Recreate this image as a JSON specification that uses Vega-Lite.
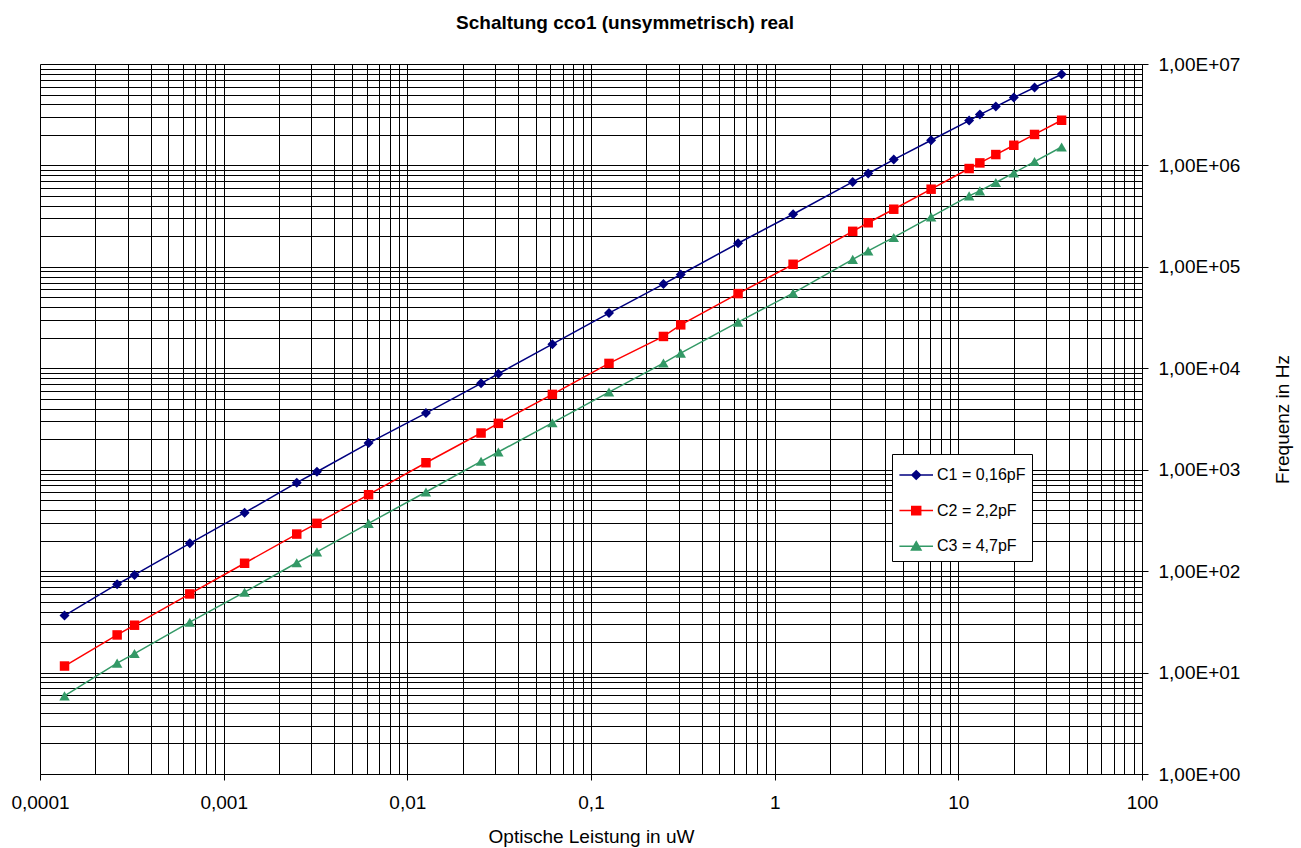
{
  "$schema": "https://vega.github.io/schema/vega-lite/v6.json",
  "autosize": {"type": "none"},
  "padding": {"left": 40, "top": 64, "right": 159, "bottom": 74},
  "width": 1102,
  "height": 710,
  "background": "white",
  "title": {
    "text": "Schaltung cco1 (unsymmetrisch) real",
    "font": "Liberation Sans",
    "fontSize": 19,
    "fontWeight": "bold",
    "color": "black",
    "anchor": "middle",
    "frame": "group",
    "dx": 34,
    "offset": 22
  },
  "data": {
    "values": [
      {"P": 0.000136, "f": 36.5, "serie": "C1 = 0,16pF"},
      {"P": 0.000263, "f": 74.3, "serie": "C1 = 0,16pF"},
      {"P": 0.000327, "f": 91.8, "serie": "C1 = 0,16pF"},
      {"P": 0.000654, "f": 188, "serie": "C1 = 0,16pF"},
      {"P": 0.0013, "f": 377, "serie": "C1 = 0,16pF"},
      {"P": 0.0025, "f": 745, "serie": "C1 = 0,16pF"},
      {"P": 0.00322, "f": 955, "serie": "C1 = 0,16pF"},
      {"P": 0.00615, "f": 1832, "serie": "C1 = 0,16pF"},
      {"P": 0.01263, "f": 3620, "serie": "C1 = 0,16pF"},
      {"P": 0.0252, "f": 7100, "serie": "C1 = 0,16pF"},
      {"P": 0.0313, "f": 8830, "serie": "C1 = 0,16pF"},
      {"P": 0.0616, "f": 17300, "serie": "C1 = 0,16pF"},
      {"P": 0.1253, "f": 35000, "serie": "C1 = 0,16pF"},
      {"P": 0.248, "f": 67600, "serie": "C1 = 0,16pF"},
      {"P": 0.308, "f": 84100, "serie": "C1 = 0,16pF"},
      {"P": 0.632, "f": 171000, "serie": "C1 = 0,16pF"},
      {"P": 1.26, "f": 330000, "serie": "C1 = 0,16pF"},
      {"P": 2.66, "f": 688000, "serie": "C1 = 0,16pF"},
      {"P": 3.23, "f": 832000, "serie": "C1 = 0,16pF"},
      {"P": 4.45, "f": 1143000, "serie": "C1 = 0,16pF"},
      {"P": 7.11, "f": 1770000, "serie": "C1 = 0,16pF"},
      {"P": 11.45, "f": 2770000, "serie": "C1 = 0,16pF"},
      {"P": 13.1, "f": 3170000, "serie": "C1 = 0,16pF"},
      {"P": 16.0, "f": 3800000, "serie": "C1 = 0,16pF"},
      {"P": 20.05, "f": 4670000, "serie": "C1 = 0,16pF"},
      {"P": 26.0, "f": 5860000, "serie": "C1 = 0,16pF"},
      {"P": 36.5, "f": 7920000, "serie": "C1 = 0,16pF"},
      {"P": 0.000136, "f": 11.6, "serie": "C2 = 2,2pF"},
      {"P": 0.000263, "f": 23.5, "serie": "C2 = 2,2pF"},
      {"P": 0.000327, "f": 29.3, "serie": "C2 = 2,2pF"},
      {"P": 0.000654, "f": 59.6, "serie": "C2 = 2,2pF"},
      {"P": 0.0013, "f": 119.6, "serie": "C2 = 2,2pF"},
      {"P": 0.0025, "f": 232, "serie": "C2 = 2,2pF"},
      {"P": 0.00322, "f": 296, "serie": "C2 = 2,2pF"},
      {"P": 0.00615, "f": 567, "serie": "C2 = 2,2pF"},
      {"P": 0.01263, "f": 1172, "serie": "C2 = 2,2pF"},
      {"P": 0.0252, "f": 2300, "serie": "C2 = 2,2pF"},
      {"P": 0.0313, "f": 2865, "serie": "C2 = 2,2pF"},
      {"P": 0.0616, "f": 5530, "serie": "C2 = 2,2pF"},
      {"P": 0.1253, "f": 11170, "serie": "C2 = 2,2pF"},
      {"P": 0.248, "f": 20600, "serie": "C2 = 2,2pF"},
      {"P": 0.308, "f": 26800, "serie": "C2 = 2,2pF"},
      {"P": 0.632, "f": 54500, "serie": "C2 = 2,2pF"},
      {"P": 1.26, "f": 106000, "serie": "C2 = 2,2pF"},
      {"P": 2.66, "f": 224000, "serie": "C2 = 2,2pF"},
      {"P": 3.23, "f": 272000, "serie": "C2 = 2,2pF"},
      {"P": 4.45, "f": 370000, "serie": "C2 = 2,2pF"},
      {"P": 7.11, "f": 583000, "serie": "C2 = 2,2pF"},
      {"P": 11.45, "f": 932000, "serie": "C2 = 2,2pF"},
      {"P": 13.1, "f": 1059000, "serie": "C2 = 2,2pF"},
      {"P": 16.0, "f": 1280000, "serie": "C2 = 2,2pF"},
      {"P": 20.05, "f": 1580000, "serie": "C2 = 2,2pF"},
      {"P": 26.0, "f": 2020000, "serie": "C2 = 2,2pF"},
      {"P": 36.5, "f": 2790000, "serie": "C2 = 2,2pF"},
      {"P": 0.000136, "f": 5.89, "serie": "C3 = 4,7pF"},
      {"P": 0.000263, "f": 12.4, "serie": "C3 = 4,7pF"},
      {"P": 0.000327, "f": 15.4, "serie": "C3 = 4,7pF"},
      {"P": 0.000654, "f": 31.4, "serie": "C3 = 4,7pF"},
      {"P": 0.0013, "f": 62.0, "serie": "C3 = 4,7pF"},
      {"P": 0.0025, "f": 121, "serie": "C3 = 4,7pF"},
      {"P": 0.00322, "f": 155, "serie": "C3 = 4,7pF"},
      {"P": 0.00615, "f": 296, "serie": "C3 = 4,7pF"},
      {"P": 0.01263, "f": 603, "serie": "C3 = 4,7pF"},
      {"P": 0.0252, "f": 1210, "serie": "C3 = 4,7pF"},
      {"P": 0.0313, "f": 1494, "serie": "C3 = 4,7pF"},
      {"P": 0.0616, "f": 2900, "serie": "C3 = 4,7pF"},
      {"P": 0.1253, "f": 5830, "serie": "C3 = 4,7pF"},
      {"P": 0.248, "f": 11260, "serie": "C3 = 4,7pF"},
      {"P": 0.308, "f": 14100, "serie": "C3 = 4,7pF"},
      {"P": 0.632, "f": 28500, "serie": "C3 = 4,7pF"},
      {"P": 1.26, "f": 55100, "serie": "C3 = 4,7pF"},
      {"P": 2.66, "f": 118600, "serie": "C3 = 4,7pF"},
      {"P": 3.23, "f": 143500, "serie": "C3 = 4,7pF"},
      {"P": 4.45, "f": 195000, "serie": "C3 = 4,7pF"},
      {"P": 7.11, "f": 311000, "serie": "C3 = 4,7pF"},
      {"P": 11.45, "f": 501000, "serie": "C3 = 4,7pF"},
      {"P": 13.1, "f": 561000, "serie": "C3 = 4,7pF"},
      {"P": 16.0, "f": 679000, "serie": "C3 = 4,7pF"},
      {"P": 20.05, "f": 843000, "serie": "C3 = 4,7pF"},
      {"P": 26.0, "f": 1092000, "serie": "C3 = 4,7pF"},
      {"P": 36.5, "f": 1520000, "serie": "C3 = 4,7pF"}
    ]
  },
  "encoding": {
    "x": {
      "field": "P",
      "type": "quantitative",
      "scale": {"type": "log", "domain": [0.0001, 100], "nice": false},
      "axis": {
        "title": "Optische Leistung in uW",
        "orient": "bottom",
        "values": [0.0001,0.0002,0.0003,0.0004,0.0005,0.0006,0.0007,0.0008,0.0009,0.001,0.002,0.003,0.004,0.005,0.006,0.007,0.008,0.009,0.01,0.02,0.03,0.04,0.05,0.06,0.07,0.08,0.09,0.1,0.2,0.3,0.4,0.5,0.6,0.7,0.8,0.9,1,2,3,4,5,6,7,8,9,10,20,30,40,50,60,70,80,90,100],
        "labelExpr": "abs(log(datum.value)/LN10 - round(log(datum.value)/LN10)) < 0.001 ? replace(toString(datum.value), '.', ',') : ''",
        "tickOpacity": {"condition": {"test": "abs(log(datum.value)/LN10 - round(log(datum.value)/LN10)) < 0.001", "value": 1}, "value": 0},
        "labelOverlap": false,
        "labelFlush": false,
        "labelBound": false,
        "tickSize": 6,
        "labelPadding": 13,
        "titlePadding": 15
      }
    },
    "y": {
      "field": "f",
      "type": "quantitative",
      "scale": {"type": "log", "domain": [1, 10000000], "nice": false},
      "axis": {
        "title": "Frequenz in Hz",
        "orient": "right",
        "values": [1,2,3,4,5,6,7,8,9,10,20,30,40,50,60,70,80,90,100,200,300,400,500,600,700,800,900,1000,2000,3000,4000,5000,6000,7000,8000,9000,10000,20000,30000,40000,50000,60000,70000,80000,90000,100000,200000,300000,400000,500000,600000,700000,800000,900000,1000000,2000000,3000000,4000000,5000000,6000000,7000000,8000000,9000000,10000000],
        "labelExpr": "abs(log(datum.value)/LN10 - round(log(datum.value)/LN10)) < 0.001 ? '1,00E+0' + round(log(datum.value)/LN10) : ''",
        "tickOpacity": {"condition": {"test": "abs(log(datum.value)/LN10 - round(log(datum.value)/LN10)) < 0.001", "value": 1}, "value": 0},
        "labelOverlap": false,
        "labelFlush": false,
        "labelBound": false,
        "tickSize": 6,
        "labelPadding": 10,
        "titleAngle": 270,
        "titlePadding": 53
      }
    }
  },
  "layer": [
    {
      "mark": {"type": "line", "strokeWidth": 1.5},
      "encoding": {
        "color": {
          "field": "serie",
          "type": "nominal",
          "scale": {"domain": ["C1 = 0,16pF", "C2 = 2,2pF", "C3 = 4,7pF"], "range": ["#000080", "#FF0000", "#339966"]},
          "legend": {
            "title": null,
            "orient": "none",
            "legendX": 852,
            "legendY": 390,
            "padding": 6,
            "strokeColor": "black",
            "fillColor": "white",
            "symbolSize": 784,
            "symbolType": "stroke",
            "rowPadding": 12.6,
            "labelOffset": 9,
            "labelFontSize": 16,
            "labelFont": "Liberation Sans",
            "labelColor": "black",
            "encode": {
              "symbols": {
                "update": {
                  "shape": {"signal": "datum.value === 'C1 = 0,16pF' ? 'M-0.97,0L1.43,0M0.23,-0.3L0.54,0L0.23,0.3L-0.08,0Z' : datum.value === 'C2 = 2,2pF' ? 'M-0.97,0L1.43,0M-0.09,-0.3L0.55,-0.3L0.55,0.3L-0.09,0.3Z' : 'M-0.97,0L1.43,0M0.23,-0.32L0.57,0.27L-0.11,0.27Z'"},
                  "fill": {"signal": "scale('color', datum.value)"},
                  "stroke": {"signal": "scale('color', datum.value)"},
                  "strokeWidth": {"value": 1.5},
                  "opacity": {"value": 1},
                  "fillOpacity": {"value": 1},
                  "strokeOpacity": {"value": 1}
                }
              }
            }
          }
        }
      }
    },
    {
      "transform": [{"filter": "datum.serie === 'C1 = 0,16pF'"}],
      "mark": {"type": "point", "filled": true, "opacity": 1, "shape": "diamond", "size": 100, "color": "#000080"}
    },
    {
      "transform": [{"filter": "datum.serie === 'C2 = 2,2pF'"}],
      "mark": {"type": "point", "filled": true, "opacity": 1, "shape": "square", "size": 90, "color": "#FF0000"}
    },
    {
      "transform": [{"filter": "datum.serie === 'C3 = 4,7pF'"}],
      "mark": {"type": "point", "filled": true, "opacity": 1, "shape": "triangle-up", "size": 110, "color": "#339966"}
    }
  ],
  "config": {
    "view": {"stroke": null},
    "font": "Liberation Sans",
    "axis": {
      "grid": true,
      "gridColor": "black",
      "gridOpacity": 1,
      "gridWidth": 1,
      "domainColor": "black",
      "domainWidth": 1,
      "tickColor": "black",
      "labelFont": "Liberation Sans",
      "labelFontSize": 19,
      "labelColor": "black",
      "titleFont": "Liberation Sans",
      "titleFontSize": 19,
      "titleFontWeight": "normal",
      "titleColor": "black"
    }
  }
}
